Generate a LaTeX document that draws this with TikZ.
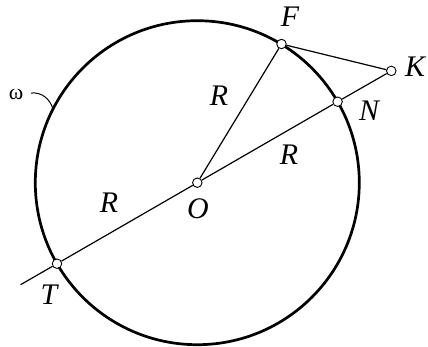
\documentclass[tikz,border=0pt]{standalone}
\usepackage{fontspec}
\setmainfont{Liberation Serif}
\begin{document}
\begin{tikzpicture}[x=1bp,y=-1bp,
  pt/.style={circle,draw,fill=white,line width=0.9bp,inner sep=0pt,minimum size=9.5bp},
  seg/.style={line width=1.2bp},
  lab/.style={font=\fontsize{30}{32}\selectfont\itshape,inner sep=0pt},
  circ/.style={line width=2.7bp}]
\useasboundingbox (0,0) rectangle (428,347);
\coordinate (o) at (197.3,182.7);
\draw[circ] (o) circle[radius=162];
\node[pt] (O) at (197.3,182.7) {};
\node[pt] (N) at (337.6,101.7) {};
\node[pt] (T) at (57.0,263.7) {};
\node[pt] (K) at (391.3,70.9) {};
\node[pt] (F) at (281.5,44.0) {};
\coordinate (E) at (20.6,284.7);
\draw[seg] (E) -- (T);
\draw[seg] (T) -- (O);
\draw[seg] (O) -- (N);
\draw[seg] (N) -- (K);
\draw[seg] (O) -- (F);
\draw[seg] (F) -- (K);
\node[lab] (lF) at (290,17) {F};
\node[lab] (lK) at (415,67) {K};
\node[lab] (lN) at (369,111) {N};
\node[lab] (lR1) at (219,96) {R};
\node[lab] (lR2) at (289,155) {R};
\node[lab] (lR3) at (109,203) {R};
\node[lab] (lO) at (198,209) {O};
\node[lab] (lT) at (49,295) {T};
\node[font=\fontsize{22}{24}\selectfont,inner sep=0pt] (w) at (16,94) {ω};
\coordinate (wc) at (53,109);
\draw[line width=1bp] (31,93) .. controls (42,92) and (50,99) .. (wc);
\end{tikzpicture}
\end{document}
